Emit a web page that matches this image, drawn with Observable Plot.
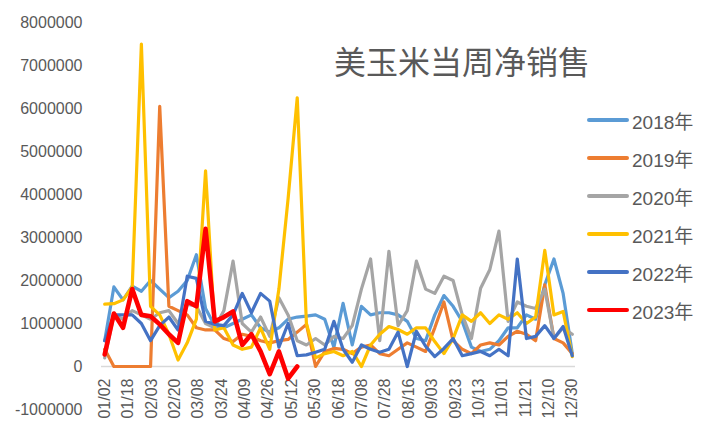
<!DOCTYPE html>
<html>
<head>
<meta charset="utf-8">
<script src="https://cdn.jsdelivr.net/npm/d3@7"></script>
<script src="https://cdn.jsdelivr.net/npm/@observablehq/plot@0.6"></script>
<style>
  html, body { margin: 0; padding: 0; background: #fff; }
  #wrap { position: relative; width: 722px; height: 434px; overflow: hidden; }
  #title { position: absolute; left: 334px; top: 37px; font-family: "Noto Sans CJK SC", sans-serif; font-size: 32px; line-height: 46px; color: #595959; white-space: nowrap; }
  #legend { position: absolute; left: 587px; top: 101px; font-family: "Liberation Sans", "Noto Sans CJK SC", sans-serif; font-size: 19px; color: #595959; }
  .item { height: 38px; display: flex; align-items: center; }
  .swatch { width: 42px; height: 3.5px; border-radius: 2px; margin-right: 3px; }
</style>
</head>
<body>
<div id="wrap">
  <div id="chart"></div>
  <div id="title"></div>
  <div id="legend"></div>
</div>
<script>
const titleText = "美玉米当周净销售";
const tickLabels = ["01/02","01/18","02/03","02/20","03/08","03/24","04/09","04/26","05/12","05/30",
  "06/18","07/08","07/28","08/16","09/03","09/23","10/13","11/01","11/21","12/10","12/30"];
const years = ["2018年","2019年","2020年","2021年","2022年","2023年"];
const colors = ["#5B9BD5","#ED7D31","#A5A5A5","#FFC000","#4472C4","#FF0000"];
const widths = [3.2, 3.2, 3.2, 3.2, 3.2, 4.6];
const yTicks = [-1000000,0,1000000,2000000,3000000,4000000,5000000,6000000,7000000,8000000];

const s2018 = [600000,1850000,1550000,1870000,1750000,2000000,1800000,1600000,1750000,2000000,
  2600000,1350000,950000,900000,1000000,1100000,1200000,900000,800000,900000,
  1100000,1150000,1170000,1200000,1100000,450000,1470000,500000,1400000,1200000,
  1250000,1250000,1200000,1050000,650000,600000,1200000,1650000,1400000,1050000,
  450000,350000,400000,600000,900000,900000,1200000,1100000,1900000,2500000,
  1700000,300000];
const s2019 = [400000,0,0,0,0,0,6050000,1400000,1300000,1200000,
  900000,850000,850000,650000,580000,750000,700000,600000,550000,600000,
  630000,800000,980000,0,350000,420000,400000,300000,450000,500000,
  300000,250000,400000,550000,450000,350000,900000,1500000,600000,400000,
  300000,500000,550000,500000,700000,820000,750000,600000,1900000,650000,
  550000,300000];
const s2020 = [200000,1200000,1100000,1300000,1200000,1100000,1250000,1300000,1000000,1450000,
  1400000,1000000,900000,1300000,2450000,1000000,800000,1150000,700000,1600000,
  1200000,600000,500000,650000,500000,700000,650000,950000,1800000,2500000,
  600000,2680000,950000,1300000,2450000,1800000,1700000,2100000,2000000,1200000,
  650000,1820000,2250000,3150000,1050000,1500000,1400000,1350000,1800000,650000,
  900000,750000];
const s2021 = [1450000,1460000,1550000,1850000,7500000,1400000,1200000,750000,150000,550000,
  1100000,4550000,850000,900000,500000,400000,450000,900000,400000,1800000,
  3900000,6250000,1000000,200000,300000,350000,250000,350000,0,500000,
  750000,930000,860000,750000,900000,900000,580000,300000,650000,1200000,
  1050000,1250000,1000000,1200000,1100000,1250000,1000000,1150000,2700000,1200000,
  1280000,230000];
const s2022 = [600000,1200000,1200000,1200000,1000000,600000,950000,1150000,850000,2100000,
  2050000,1050000,980000,950000,1200000,1700000,1250000,1700000,1520000,450000,
  1000000,250000,270000,330000,400000,1050000,400000,100000,500000,400000,
  330000,400000,800000,0,820000,470000,230000,420000,650000,250000,
  300000,350000,250000,400000,250000,2500000,650000,700000,950000,650000,
  930000,250000];
const s2023 = [280000,1230000,900000,1800000,1200000,1170000,980000,750000,550000,1520000,
  1400000,3200000,1050000,1150000,1280000,500000,750000,350000,-180000,350000,
  -280000,0];

const series = [s2018, s2019, s2020, s2021, s2022, s2023];
const nWeeks = s2018.length;
const tickPos = tickLabels.map((_, k) => k * (nWeeks - 1) / (tickLabels.length - 1));

const lineMarks = series.map((vals, k) =>
  Plot.line(vals.map((v, i) => ({week: i, value: v})), {
    x: "week", y: "value", stroke: colors[k], strokeWidth: widths[k],
    strokeLinejoin: "round", strokeLinecap: "round"
  })
);

const chart = Plot.plot({
  width: 722,
  height: 434,
  marginLeft: 101,
  marginRight: 147,
  marginTop: 22,
  marginBottom: 25,
  style: {fontFamily: "Liberation Sans, Arial, sans-serif", fontSize: "16px", color: "#595959", background: "#fff"},
  x: {domain: [-0.35, nWeeks - 1 + 0.35], axis: null},
  y: {domain: [-1000000, 8000000], axis: null},
  marks: [
    Plot.axisY(yTicks, {tickSize: 0, tickPadding: 19, tickFormat: d => String(d), label: null, fontSize: 16}),
    Plot.ruleY([0], {stroke: "#d9d9d9", strokeWidth: 1.5}),
    Plot.text(tickPos, {
      x: d => d, y: () => 0, text: (d, i) => tickLabels[i],
      rotate: -90, textAnchor: "end", dy: 12, fontSize: 16, fill: "#595959"
    }),
    ...lineMarks
  ]
});
document.getElementById("chart").appendChild(chart);

document.getElementById("title").textContent = titleText;
const legend = document.getElementById("legend");
years.forEach((y, k) => {
  const item = document.createElement("div");
  item.className = "item";
  const sw = document.createElement("div");
  sw.className = "swatch";
  sw.style.background = colors[k];
  if (k === 5) sw.style.height = "4.5px";
  const t = document.createElement("span");
  t.textContent = y;
  item.appendChild(sw);
  item.appendChild(t);
  legend.appendChild(item);
});
</script>
</body>
</html>
